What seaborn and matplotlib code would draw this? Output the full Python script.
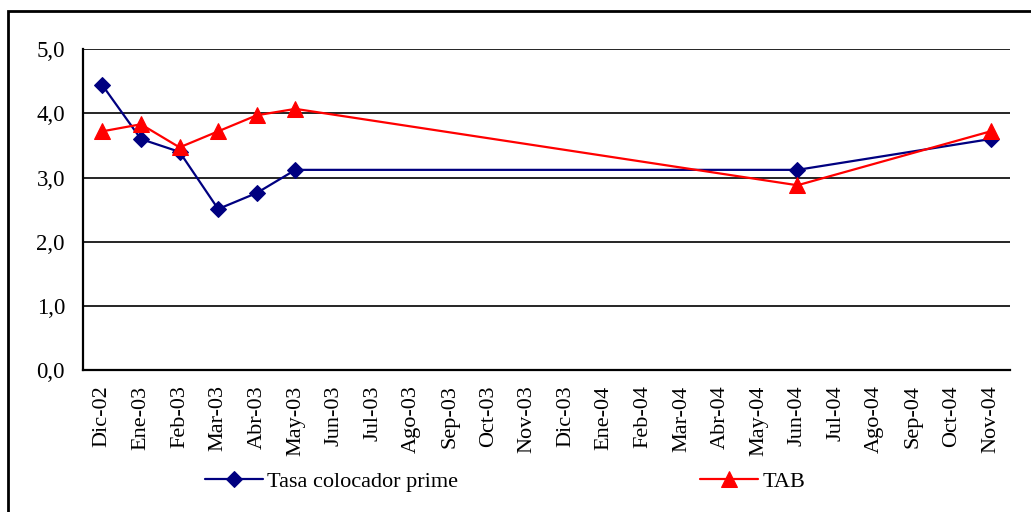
import numpy as np
import pandas as pd
import matplotlib
matplotlib.use("Agg")
import matplotlib.pyplot as plt
import seaborn as sns
from matplotlib.patches import Rectangle
from matplotlib.ticker import FuncFormatter

months = ["Dic-02", "Ene-03", "Feb-03", "Mar-03", "Abr-03", "May-03", "Jun-03",
          "Jul-03", "Ago-03", "Sep-03", "Oct-03", "Nov-03", "Dic-03", "Ene-04",
          "Feb-04", "Mar-04", "Abr-04", "May-04", "Jun-04", "Jul-04", "Ago-04",
          "Sep-04", "Oct-04", "Nov-04"]
prime = [4.44, 3.60, 3.40, 2.51, 2.76, 3.12, None, None, None, None, None, None,
         None, None, None, None, None, None, 3.12, None, None, None, None, 3.60]
tab = [3.72, 3.83, 3.47, 3.72, 3.97, 4.07, None, None, None, None, None, None,
       None, None, None, None, None, None, 2.88, None, None, None, None, 3.72]

sns.set_style("white", {"text.color": "black", "xtick.color": "black",
                        "ytick.color": "black", "axes.labelcolor": "black"})
plt.rcParams['font.family'] = ['Liberation Serif', 'DejaVu Serif']

df = pd.DataFrame({"pos": np.arange(len(months)), "prime": prime, "tab": tab})

fig = plt.figure(figsize=(10.31, 5.12), dpi=100)
ax = fig.add_axes([0.0805, 0.277, 0.899, 0.627])

d1 = df.dropna(subset=["prime"])
d2 = df.dropna(subset=["tab"])
sns.lineplot(data=d1, x="pos", y="prime", ax=ax, color="#000080", marker="D",
             markersize=8.5, markeredgecolor="#000080", linewidth=1.6,
             label="Tasa colocador prime")
sns.lineplot(data=d2, x="pos", y="tab", ax=ax, color="#FF0000", marker="^",
             markersize=11, markeredgecolor="#FF0000", linewidth=1.6,
             label="TAB")

ax.set_xlim(-0.5, len(months) - 0.5)
ax.set_ylim(0, 5)
ax.set_yticks(np.arange(0, 5.01, 1))
ax.yaxis.set_major_formatter(FuncFormatter(lambda v, p: f"{v:.1f}".replace(".", ",")))
ax.set_xticks(np.arange(len(months)))
ax.set_xticklabels(months, rotation=90)
ax.set_xticks(np.arange(-0.5, len(months)), minor=True)
ax.tick_params(axis="x", which="major", length=0, pad=11, labelsize=16, labelcolor="black")
ax.tick_params(axis="x", which="minor", length=8, width=1.5, direction="out", color="black")
ax.tick_params(axis="y", length=7, width=1.5, direction="out", color="black",
               labelsize=16.5, pad=6, labelcolor="black")
ax.set_xlabel("")
ax.set_ylabel("")

ax.grid(axis="y", color="black", linewidth=1.2)
ax.grid(axis="x", visible=False)
for s in ["top", "right"]:
    ax.spines[s].set_visible(False)
for s in ["left", "bottom"]:
    ax.spines[s].set_color("black")
    ax.spines[s].set_linewidth(1.6)

ax.get_legend().remove()
handles, labels = ax.get_legend_handles_labels()
leg = fig.legend(handles, labels, loc="center", bbox_to_anchor=(0.49, 0.06), ncol=2,
                 frameon=False, fontsize=16, columnspacing=10.9, handlelength=2.6,
                 handletextpad=0.2)
for t in leg.get_texts():
    t.set_color("black")

fig.patches.append(Rectangle((8 / 1031, -0.05), 1.2, 1 - 11 / 512 + 0.05,
                             transform=fig.transFigure, fill=False,
                             edgecolor="black", linewidth=2))

fig.savefig("out.png", dpi=100)
